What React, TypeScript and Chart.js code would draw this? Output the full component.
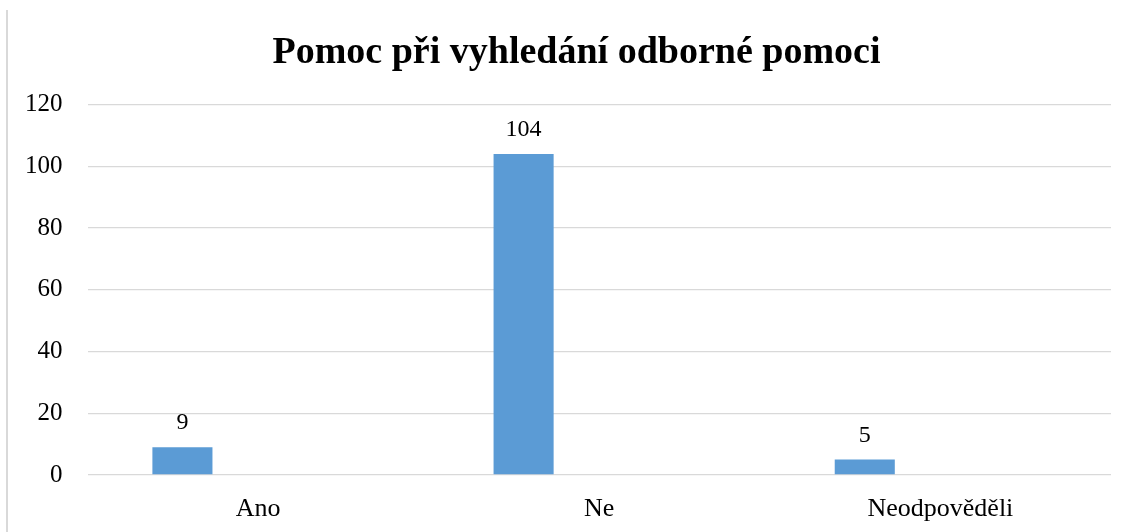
import React, { useEffect, useRef } from "react";
import { Chart, registerables } from "chart.js";

Chart.register(...registerables);

const title = "Pomoc při vyhledání odborné pomoci";
const categories = ["Ano", "Ne", "Neodpověděli"];
const seriesValues = [9, 104, 5];
const emptySeriesValues: (number | null)[] = [null, null, null];
const yTicks = [0, 20, 40, 60, 80, 100, 120];

const FONT = "'Liberation Serif', 'Times New Roman', serif";

const dataLabelPlugin = {
  id: "dataLabels",
  afterLayout(chart: any) {
    // center the title over the whole chart frame (which starts at the left border line)
    if (chart.titleBlock) {
      chart.titleBlock.left += 42;
    }
  },
  afterDatasetsDraw(chart: any) {
    const ctx = chart.ctx;
    const meta = chart.getDatasetMeta(0);
    ctx.save();
    ctx.font = `24px ${FONT}`;
    ctx.fillStyle = "#000";
    ctx.textAlign = "center";
    ctx.textBaseline = "alphabetic";
    meta.data.forEach((bar: any, i: number) => {
      const v = chart.data.datasets[0].data[i];
      if (v == null) return;
      ctx.fillText(String(v), bar.x, bar.y - 18);
    });
    ctx.restore();
  },
};

export default function App() {
  const ref = useRef<HTMLCanvasElement | null>(null);

  useEffect(() => {
    if (!ref.current) return;
    const chart = new Chart(ref.current, {
      type: "bar",
      data: {
        labels: categories,
        datasets: [
          {
            label: "Řada 1",
            data: seriesValues,
            backgroundColor: "#5b9bd5",
            categoryPercentage: 0.887,
            barPercentage: 0.397,
          },
          {
            label: "Řada 2",
            data: emptySeriesValues,
            backgroundColor: "#ed7d31",
            categoryPercentage: 0.887,
            barPercentage: 0.397,
          },
        ],
      },
      options: {
        animation: false,
        responsive: true,
        maintainAspectRatio: false,
        layout: { padding: { left: 0, right: 19, top: 0, bottom: -11 } },
        plugins: {
          legend: { display: false },
          tooltip: { enabled: false },
          title: {
            display: true,
            text: title,
            color: "#000",
            font: { family: FONT, size: 38, weight: "bold", lineHeight: 1.2 },
            padding: { top: 30, bottom: 29 },
          },
        },
        scales: {
          x: {
            grid: { display: false, drawTicks: false },
            border: { display: false },
            ticks: {
              color: "#000",
              font: { family: FONT, size: 26 },
              padding: 18.4,
            },
          },
          y: {
            min: 0,
            max: 120,
            afterBuildTicks: (axis: any) => {
              axis.ticks = yTicks.map((v) => ({ value: v }));
            },
            grid: { color: "#d9d9d9", lineWidth: 1.3, drawTicks: false },
            border: { display: false },
            ticks: {
              color: "#000",
              font: { family: FONT, size: 25 },
              padding: 25,
            },
          },
        },
      },
      plugins: [dataLabelPlugin],
    });
    return () => chart.destroy();
  }, []);

  return (
    <div
      style={{
        position: "fixed",
        left: 0,
        top: 0,
        width: 1130,
        height: 532,
        background: "#fff",
      }}
    >
      <div
        style={{
          position: "absolute",
          left: 6,
          top: 10,
          width: 2,
          height: 522,
          background: "#d9d9d9",
        }}
      />
      <div style={{ position: "absolute", left: 0, top: 0, width: 1130, height: 532 }}>
        <canvas ref={ref} />
      </div>
    </div>
  );
}
